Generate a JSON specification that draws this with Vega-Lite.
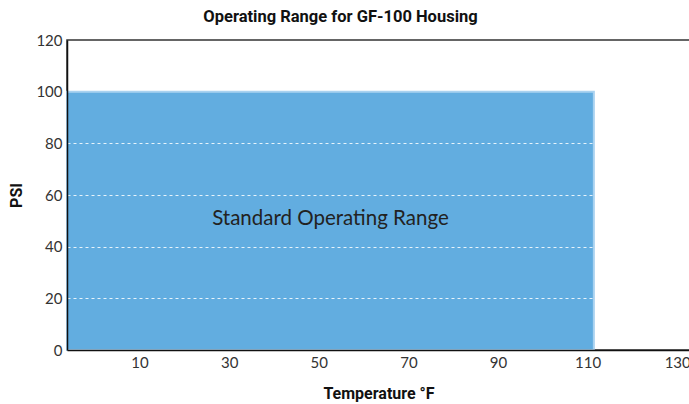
{
  "$schema": "https://vega.github.io/schema/vega-lite/v6.json",
  "autosize": "none",
  "width": 623,
  "height": 310,
  "padding": {"left": 67, "top": 40, "right": 0, "bottom": 54},
  "background": "white",
  "title": {
    "text": "Operating Range for GF-100 Housing",
    "fontSize": 16.5,
    "font": "Roboto, sans-serif",
    "fontWeight": "bold",
    "color": "#111",
    "anchor": "middle",
    "dx": -38,
    "offset": 8
  },
  "config": {
    "view": {"stroke": "#333", "strokeWidth": 1.5},
    "font": "Lato"
  },
  "data": {
    "values": [
      {"tmin": -6.2, "tmax": 111.4, "pmin": 0, "pmax": 100, "tmid": 52.6, "pmid": 50.8, "label": "Standard Operating Range"}
    ]
  },
  "layer": [
    {
      "mark": {"type": "rect", "color": "#62ADE0", "stroke": "#A9D2F0", "strokeWidth": 2},
      "encoding": {
        "x": {
          "field": "tmin", "type": "quantitative",
          "scale": {"domain": [-6.2, 132.86], "nice": false, "zero": false},
          "axis": {
            "values": [10, 30, 50, 70, 90, 110, 130],
            "title": "Temperature °F",
            "titleFont": "Roboto, sans-serif",
            "titleFontSize": 16,
            "titleFontWeight": "bold",
            "titleColor": "#111",
            "titlePadding": 15,
            "labelFontSize": 15,
            "labelColor": "#333",
            "labelFont": "Lato",
            "labelPadding": 5,
            "ticks": false,
            "grid": false,
            "domainColor": "#111",
            "domainWidth": 1.5,
            "zindex": 1
          }
        },
        "x2": {"field": "tmax"},
        "y": {
          "field": "pmin", "type": "quantitative",
          "scale": {"domain": [0, 120], "nice": false},
          "axis": {
            "values": [0, 20, 40, 60, 80, 100, 120],
            "title": "PSI",
            "titleFont": "Roboto, sans-serif",
            "titleFontSize": 16,
            "titleFontWeight": "bold",
            "titleColor": "#111",
            "titlePadding": 11,
            "labelFontSize": 15,
            "labelColor": "#333",
            "labelFont": "Lato",
            "labelPadding": 5,
            "ticks": false,
            "grid": true,
            "gridColor": "white",
            "gridDash": [3, 3],
            "gridWidth": 1,
            "gridOpacity": {"condition": {"test": "datum.value > 0 && datum.value < 100", "value": 0.85}, "value": 0},
            "domainColor": "#111",
            "domainWidth": 1.5,
            "zindex": 1
          }
        },
        "y2": {"field": "pmax"}
      }
    },
    {
      "mark": {"type": "text", "fontSize": 20.5, "color": "#222", "font": "Lato", "fontWeight": "normal"},
      "encoding": {
        "x": {"field": "tmid", "type": "quantitative"},
        "y": {"field": "pmid", "type": "quantitative"},
        "text": {"field": "label"}
      }
    }
  ]
}
